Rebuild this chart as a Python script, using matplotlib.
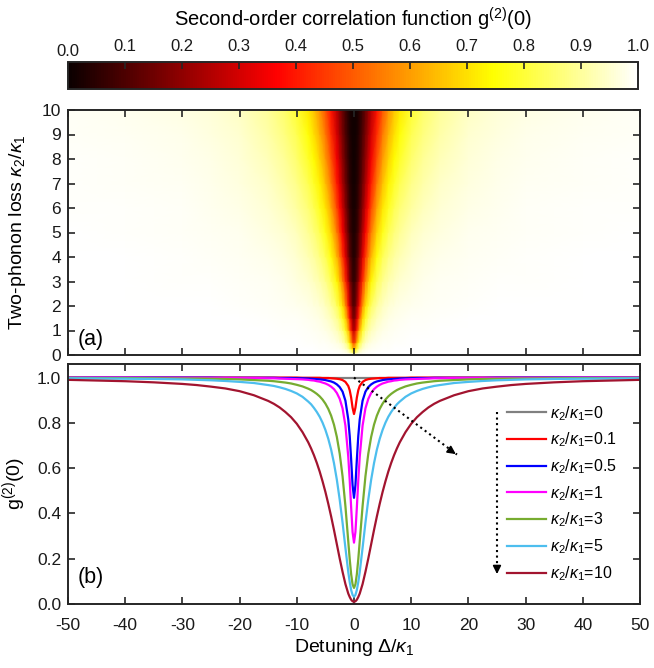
import numpy as np
import matplotlib
matplotlib.use("Agg")
import matplotlib.pyplot as plt
from matplotlib.transforms import ScaledTranslation

plt.rcParams['font.family'] = ['Liberation Sans', 'DejaVu Sans']
plt.rcParams['mathtext.fontset'] = 'custom'
plt.rcParams['mathtext.rm'] = 'Liberation Sans'
plt.rcParams['mathtext.it'] = 'Liberation Sans:italic'
plt.rcParams['mathtext.bf'] = 'Liberation Sans:bold'
plt.rcParams['axes.unicode_minus'] = False

# ---------------- data (Delta >= 0; the chart is symmetric in Delta) ----------------
# panel (a): colour map, g2(0) on a (kappa2/kappa1, detuning) grid
map_detuning_pos = [0, 0.25, 0.5, 0.75, 1, 1.5, 2, 2.5, 3, 4, 5, 6, 7, 8, 10, 12, 15, 20, 25, 30, 40, 50]
map_kappa = [0, 0.1, 0.25, 0.5, 1, 1.5, 2, 3, 4, 5, 6, 7, 8, 9, 10]

map_k0 = [1.000] * 22
map_k0p1 = [0.839, 0.867, 0.912, 0.944, 0.963, 0.981, 0.989, 0.993, 0.995, 0.997, 0.998, 0.999, 0.999, 0.999, 1.000, 1.000, 1.000, 1.000, 1.000, 1.000, 1.000, 1.000]
map_k0p25 = [0.661, 0.709, 0.796, 0.864, 0.907, 0.951, 0.971, 0.981, 0.986, 0.992, 0.995, 0.996, 0.997, 0.998, 0.999, 0.999, 0.999, 1.000, 1.000, 1.000, 1.000, 1.000]
map_k0p5 = [0.469, 0.525, 0.639, 0.742, 0.815, 0.898, 0.938, 0.958, 0.970, 0.983, 0.989, 0.992, 0.994, 0.996, 0.997, 0.998, 0.999, 0.999, 1.000, 1.000, 1.000, 1.000]
map_k1 = [0.271, 0.318, 0.427, 0.547, 0.650, 0.788, 0.864, 0.906, 0.932, 0.960, 0.974, 0.982, 0.987, 0.990, 0.993, 0.995, 0.997, 0.998, 0.999, 0.999, 1.000, 1.000]
map_k1p5 = [0.177, 0.211, 0.300, 0.411, 0.517, 0.682, 0.785, 0.848, 0.888, 0.933, 0.956, 0.969, 0.977, 0.982, 0.989, 0.992, 0.995, 0.997, 0.998, 0.999, 0.999, 1.000]
map_k2 = [0.124, 0.150, 0.221, 0.315, 0.414, 0.586, 0.706, 0.786, 0.840, 0.902, 0.935, 0.954, 0.965, 0.973, 0.983, 0.988, 0.992, 0.996, 0.997, 0.998, 0.999, 0.999]
map_k3 = [0.071, 0.087, 0.132, 0.198, 0.276, 0.432, 0.564, 0.664, 0.738, 0.832, 0.885, 0.917, 0.937, 0.951, 0.968, 0.978, 0.986, 0.992, 0.995, 0.996, 0.998, 0.999]
map_k4 = [0.046, 0.056, 0.087, 0.135, 0.193, 0.324, 0.449, 0.554, 0.639, 0.757, 0.829, 0.874, 0.904, 0.925, 0.950, 0.965, 0.977, 0.987, 0.992, 0.994, 0.997, 0.998]
map_k5 = [0.032, 0.040, 0.062, 0.097, 0.141, 0.248, 0.359, 0.461, 0.549, 0.682, 0.769, 0.827, 0.866, 0.894, 0.930, 0.950, 0.967, 0.981, 0.988, 0.992, 0.995, 0.997]
map_k6 = [0.024, 0.029, 0.046, 0.073, 0.108, 0.194, 0.291, 0.385, 0.471, 0.610, 0.709, 0.777, 0.826, 0.861, 0.906, 0.933, 0.956, 0.975, 0.984, 0.989, 0.994, 0.996]
map_k7 = [0.018, 0.022, 0.035, 0.056, 0.084, 0.155, 0.238, 0.324, 0.405, 0.545, 0.650, 0.727, 0.784, 0.825, 0.881, 0.914, 0.943, 0.967, 0.979, 0.985, 0.992, 0.995]
map_k8 = [0.014, 0.018, 0.028, 0.045, 0.068, 0.127, 0.198, 0.274, 0.349, 0.485, 0.595, 0.678, 0.741, 0.789, 0.853, 0.893, 0.929, 0.959, 0.973, 0.981, 0.989, 0.993]
map_k9 = [0.012, 0.014, 0.023, 0.037, 0.055, 0.105, 0.166, 0.234, 0.303, 0.433, 0.543, 0.630, 0.698, 0.751, 0.825, 0.871, 0.914, 0.950, 0.967, 0.977, 0.987, 0.992]
map_k10 = [0.010, 0.012, 0.019, 0.031, 0.046, 0.088, 0.142, 0.201, 0.264, 0.387, 0.495, 0.585, 0.657, 0.714, 0.796, 0.848, 0.897, 0.940, 0.960, 0.972, 0.984, 0.990]
map_rows = [map_k0, map_k0p1, map_k0p25, map_k0p5, map_k1, map_k1p5, map_k2, map_k3, map_k4,
            map_k5, map_k6, map_k7, map_k8, map_k9, map_k10]

# panel (b): line cuts, g2(0) versus detuning
curve_detuning_pos = [0, 0.25, 0.5, 0.75, 1, 1.5, 2, 2.5, 3, 3.5, 4, 4.5, 5, 5.5, 6, 6.5, 7, 7.5, 8, 9,
                      10, 11, 12, 13, 14, 15, 17.5, 20, 22.5, 25, 27.5, 30, 35, 40, 45, 50]
curve_k0 = [1.000] * 36
curve_k0p1 = [0.839, 0.867, 0.912, 0.944, 0.963, 0.981, 0.989, 0.993, 0.995, 0.996,
              0.997, 0.998, 0.998, 0.998, 0.999, 0.999, 0.999, 0.999, 0.999, 0.999,
              1.000, 1.000, 1.000, 1.000, 1.000, 1.000, 1.000, 1.000, 1.000, 1.000,
              1.000, 1.000, 1.000, 1.000, 1.000, 1.000]
curve_k0p5 = [0.469, 0.525, 0.639, 0.742, 0.815, 0.898, 0.938, 0.958, 0.970, 0.978,
              0.983, 0.986, 0.989, 0.991, 0.992, 0.993, 0.994, 0.995, 0.996, 0.997,
              0.997, 0.998, 0.998, 0.998, 0.999, 0.999, 0.999, 0.999, 0.999, 1.000,
              1.000, 1.000, 1.000, 1.000, 1.000, 1.000]
curve_k1 = [0.271, 0.318, 0.427, 0.547, 0.650, 0.788, 0.864, 0.906, 0.932, 0.949,
            0.960, 0.968, 0.974, 0.978, 0.982, 0.984, 0.987, 0.988, 0.990, 0.992,
            0.993, 0.994, 0.995, 0.996, 0.997, 0.997, 0.998, 0.998, 0.999, 0.999,
            0.999, 0.999, 0.999, 1.000, 1.000, 1.000]
curve_k3 = [0.071, 0.087, 0.132, 0.198, 0.276, 0.432, 0.564, 0.664, 0.738, 0.792,
            0.832, 0.862, 0.885, 0.903, 0.917, 0.928, 0.937, 0.945, 0.951, 0.961,
            0.968, 0.974, 0.978, 0.981, 0.984, 0.986, 0.989, 0.992, 0.994, 0.995,
            0.996, 0.996, 0.997, 0.998, 0.998, 0.999]
curve_k5 = [0.032, 0.040, 0.062, 0.097, 0.141, 0.248, 0.359, 0.461, 0.549, 0.622,
            0.682, 0.730, 0.769, 0.801, 0.827, 0.848, 0.866, 0.882, 0.894, 0.915,
            0.930, 0.941, 0.950, 0.957, 0.963, 0.967, 0.976, 0.981, 0.985, 0.988,
            0.990, 0.992, 0.994, 0.995, 0.996, 0.997]
curve_k10 = [0.010, 0.012, 0.019, 0.031, 0.046, 0.088, 0.142, 0.201, 0.264, 0.327,
             0.387, 0.443, 0.495, 0.542, 0.585, 0.623, 0.657, 0.687, 0.714, 0.759,
             0.796, 0.825, 0.848, 0.868, 0.884, 0.897, 0.922, 0.940, 0.952, 0.960,
             0.967, 0.972, 0.979, 0.984, 0.987, 0.990]

curve_kappa_labels = ['0', '0.1', '0.5', '1', '3', '5', '10']
curve_rows = [curve_k0, curve_k0p1, curve_k0p5, curve_k1, curve_k3, curve_k5, curve_k10]
curve_colors = ['#808080', '#ff0000', '#0000ff', '#ff00ff', '#77ac30', '#4dbeee', '#a2142f']

cbar_ticks = [0.0, 0.1, 0.2, 0.3, 0.4, 0.5, 0.6, 0.7, 0.8, 0.9, 1.0]
x_ticks = [-50, -40, -30, -20, -10, 0, 10, 20, 30, 40, 50]
ya_ticks = [0, 1, 2, 3, 4, 5, 6, 7, 8, 9, 10]
yb_ticks = [0.0, 0.2, 0.4, 0.6, 0.8, 1.0]


def mirror_x(pos):
    pos = np.asarray(pos, float)
    return np.concatenate([-pos[::-1], pos[1:]])


def mirror_y(row):
    row = np.asarray(row, float)
    return np.concatenate([row[::-1], row[1:]])


# ---------------- figure ----------------
C = '#262626'
TXT = '#1a1a1a'
fig = plt.figure(figsize=(6.54, 6.68), dpi=100)
cax = fig.add_axes([68/654, 1-89/668, 570/654, 27/668])
axa = fig.add_axes([68/654, 1-355/668, 572/654, 245/668])
axb = fig.add_axes([68/654, 1-604/668, 572/654, 240/668])

# panel (a)
map_detuning = mirror_x(map_detuning_pos)
Z = np.array([mirror_y(r) for r in map_rows])
D, K = np.meshgrid(map_detuning, np.asarray(map_kappa, float))
m = axa.pcolormesh(D, K, Z, cmap='hot', vmin=0, vmax=1, shading='gouraud', rasterized=True)
axa.set_xlim(-50, 50)
axa.set_ylim(0, 10)
axa.set_xticks(x_ticks)
axa.set_xticklabels([])
axa.set_yticks(ya_ticks)
axa.set_ylabel(r'Two-phonon loss $\kappa_2/\kappa_1$', fontsize=14)
axa.text(0.017, 0.065, '(a)', transform=axa.transAxes, fontsize=15.5, va='center')

# colour bar (the "0.0" label sits a little lower in the reference)
cb = fig.colorbar(m, cax=cax, orientation='horizontal')
cax.xaxis.set_ticks_position('top')
cax.xaxis.set_label_position('top')
cb.set_ticks(cbar_ticks)
cax.set_xticklabels([''] + [f'{v:.1f}' for v in cbar_ticks[1:]])
cax.tick_params(direction='in', length=5, width=1.2, color=C, labelsize=12, pad=6,
                labelcolor=TXT)
cax.text(cbar_ticks[0], 1.0, f'{cbar_ticks[0]:.1f}', fontsize=12, color=TXT, ha='center', va='bottom',
         transform=cax.get_xaxis_transform() + ScaledTranslation(0, 2/72, fig.dpi_scale_trans))
cb.outline.set_linewidth(1.4)
cb.outline.set_edgecolor(C)
cax.set_xlabel(r'Second-order correlation function g$^{(2)}$(0)', fontsize=14.5, labelpad=9)

# panel (b)
curve_detuning = mirror_x(curve_detuning_pos)
for lab, row, c in zip(curve_kappa_labels, curve_rows, curve_colors):
    axb.plot(curve_detuning, mirror_y(row), color=c, lw=1.6,
             label=r'$\kappa_2/\kappa_1$=' + lab)
axb.set_xlim(-50, 50)
axb.set_ylim(0, 1.06)
axb.set_xticks(x_ticks)
axb.set_yticks(yb_ticks)
axb.set_yticklabels([f'{v:.1f}' for v in yb_ticks])
axb.set_xlabel(r'Detuning $\Delta/\kappa_1$', fontsize=14, labelpad=3)
axb.set_ylabel(r'g$^{(2)}$(0)', fontsize=14)
axb.text(0.017, 0.11, '(b)', transform=axb.transAxes, fontsize=15.5, va='center')
axb.legend(loc='upper left', bbox_to_anchor=(507/654, 1-404/668), bbox_transform=fig.transFigure,
           frameon=False, fontsize=11.5, handlelength=2.45, handletextpad=0.25,
           labelspacing=0.5, borderpad=0, borderaxespad=0)

# dotted guide arrows
axb.plot([0, 18], [1.0, 0.66], color='k', ls=':', lw=1.5)
axb.annotate('', xy=(18.2, 0.655), xytext=(16.5, 0.685),
             arrowprops=dict(arrowstyle='-|>', color='k', lw=1.2, mutation_scale=12))
axb.plot([25, 25], [0.85, 0.14], color='k', ls=':', lw=1.5)
axb.annotate('', xy=(25, 0.12), xytext=(25, 0.17),
             arrowprops=dict(arrowstyle='-|>', color='k', lw=1.2, mutation_scale=12))

for ax in (axa, axb):
    ax.tick_params(direction='in', length=5, width=1.2, color=C, labelsize=12.5,
                   top=True, right=True, labelcolor=TXT)
    ax.tick_params(axis='y', pad=5)
    for s in ax.spines.values():
        s.set_linewidth(1.4)
        s.set_color(C)
    ax.yaxis.set_label_coords(-0.07, 0.5)
axb.tick_params(axis='x', pad=10)

fig.savefig("out.png", dpi=100)
